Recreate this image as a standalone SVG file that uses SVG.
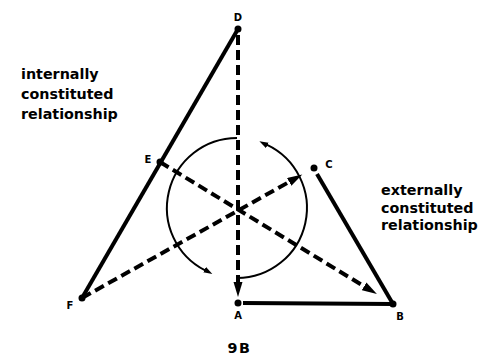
<svg xmlns="http://www.w3.org/2000/svg" width="482" height="355" viewBox="0 0 482 355">
<style>
.solid{stroke:#000;stroke-width:4;fill:none;stroke-linecap:butt}
.dash{stroke:#000;stroke-width:4;fill:none;stroke-dasharray:10 5}
.arc{stroke:#000;stroke-width:2;fill:none}
.dot{fill:#000}
.lbl{font-family:"DejaVu Sans","Liberation Sans",sans-serif;font-weight:bold;font-size:10px;fill:#000;text-anchor:middle}
.txt{font-family:"DejaVu Sans","Liberation Sans",sans-serif;font-weight:bold;font-size:14.3px;fill:#000}
</style>
<defs>
<marker id="big" markerUnits="userSpaceOnUse" markerWidth="16" markerHeight="10" refX="0" refY="4.5" orient="auto">
<path d="M0,0 L15,4.5 L0,9 z" fill="#000"/>
</marker>
<marker id="small" markerUnits="userSpaceOnUse" markerWidth="10" markerHeight="8" refX="1" refY="3.5" orient="auto">
<path d="M0,0 L9,3.5 L0,6 z" fill="#000"/>
</marker>
</defs>
<rect width="482" height="355" fill="#fff"/>
<g id="connectors">
<line class="solid" x1="238" y1="29" x2="82" y2="298"/>
<line class="solid" x1="243" y1="303" x2="393" y2="304"/>
<line class="solid" x1="317" y1="174" x2="393" y2="304"/>
<line class="dash" x1="238" y1="35" x2="238" y2="282" marker-end="url(#big)"/>
<line class="dash" x1="160" y1="162" x2="364.1" y2="286.3" marker-end="url(#big)"/>
<line class="dash" x1="82" y1="298" x2="289.2" y2="181.9" marker-end="url(#big)"/>
<path class="arc" d="M237,138 A70,70 0 0 0 205.2,270.4" marker-end="url(#small)"/>
<path class="arc" d="M237,278 A70,70 0 0 0 266.6,144.6" marker-end="url(#small)"/>
</g>
<g id="D"><circle class="dot" cx="238" cy="29" r="3.5"/><text class="lbl" x="238" y="21">D</text></g>
<g id="E"><circle class="dot" cx="160" cy="162" r="3.5"/><text class="lbl" x="148" y="163">E</text></g>
<g id="C"><circle class="dot" cx="314" cy="168" r="3.5"/><text class="lbl" x="329" y="168">C</text></g>
<g id="F"><circle class="dot" cx="82" cy="298" r="3.5"/><text class="lbl" x="70" y="309">F</text></g>
<g id="A"><circle class="dot" cx="238" cy="303" r="3.5"/><text class="lbl" x="238" y="319">A</text></g>
<g id="B"><circle class="dot" cx="393" cy="304" r="3.5"/><text class="lbl" x="400" y="320">B</text></g>
<g id="internal-label"><text class="txt" x="21" y="79">internally</text><text class="txt" x="21" y="99">constituted</text><text class="txt" x="21" y="119">relationship</text></g>
<g id="external-label"><text class="txt" x="381" y="195">externally</text><text class="txt" x="381" y="213">constituted</text><text class="txt" x="381" y="230">relationship</text></g>
<g id="caption"><text class="txt" x="239.5" y="353" text-anchor="middle" font-size="15" letter-spacing="1.5">9B</text></g>
</svg>
